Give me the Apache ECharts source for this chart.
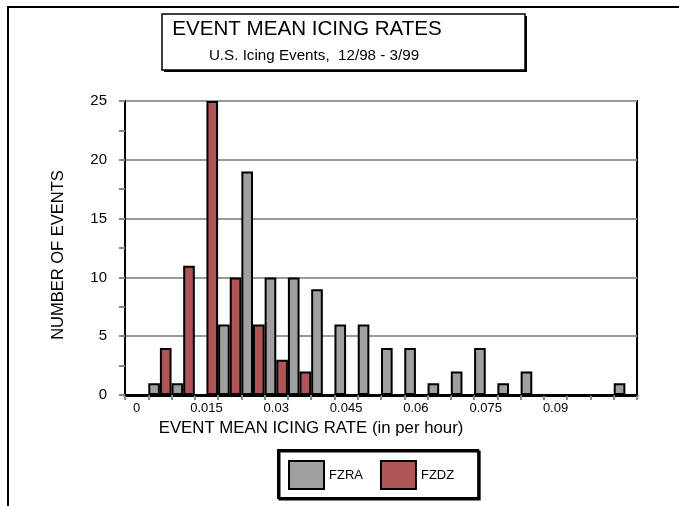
<!DOCTYPE html>
<html>
<head>
<meta charset="utf-8">
<script src="https://cdn.jsdelivr.net/npm/echarts@6/dist/echarts.min.js"></script>
<style>html,body{margin:0;padding:0;background:#fff}#c{width:679px;height:506px}</style>
</head>
<body>
<div id="c"></div>
<script>
const categories = ['0','0.005','0.01','0.015','0.02','0.025','0.03','0.035','0.04','0.045','0.05','0.055','0.06','0.065','0.07','0.075','0.08','0.085','0.09','0.095','0.1','0.105'];
const tickLabels = ['0','','','0.015','','','0.03','','','0.045','','','0.06','','','0.075','','','0.09','','',''];
const fzra = [0,1,1,0,6,19,10,10,9,6,6,4,4,1,2,4,1,2,0,0,0,1];
const fzdz = [0,4,11,25,10,6,3,2,0,0,0,0,0,0,0,0,0,0,0,0,0,0];

const FONT = "'Liberation Sans', Arial, sans-serif";
const chart = echarts.init(document.getElementById('c'), null, {renderer: 'canvas'});
chart.setOption({
  animation: false,
  backgroundColor: '#fff',
  textStyle: {fontFamily: FONT, color: '#000'},
  title: [
    {
      text: 'EVENT MEAN ICING RATES',
      left: 307, top: 19, textAlign: 'center', padding: 0,
      textStyle: {fontFamily: FONT, fontSize: 20.6, fontWeight: 'normal', color: '#000'}
    },
    {
      text: 'U.S. Icing Events,  12/98 - 3/99',
      left: 314, top: 48, textAlign: 'center', padding: 0,
      textStyle: {fontFamily: FONT, fontSize: 15.2, fontWeight: 'normal', color: '#000'}
    }
  ],
  graphic: [
    {type: 'rect', z: 0, shape: {x: 8, y: 7, width: 700, height: 600}, style: {fill: 'none', stroke: '#000', lineWidth: 2}},
    {type: 'rect', z: 0, shape: {x: 164, y: 16, width: 363, height: 56}, style: {fill: '#000'}},
    {type: 'rect', z: 1, shape: {x: 162, y: 14, width: 363, height: 56}, style: {fill: '#fff', stroke: '#000', lineWidth: 1.5}}
  ],
  legend: {
    data: ['FZRA', 'FZDZ'],
    left: 278, top: 450,
    orient: 'horizontal',
    itemWidth: 35, itemHeight: 28, itemGap: 17,
    padding: [10, 24, 8, 10],
    borderColor: '#000', borderWidth: 2,
    backgroundColor: '#fff',
    shadowColor: '#000', shadowBlur: 0, shadowOffsetX: 1.5, shadowOffsetY: 1.5,
    icon: 'rect',
    textStyle: {fontFamily: FONT, fontSize: 13, color: '#000', padding: [0, 0, 0, 0]}
  },
  grid: {left: 125, right: 42, top: 101, bottom: 111, show: true, borderColor: '#000', borderWidth: 2, containLabel: false},
  xAxis: {
    type: 'category',
    data: categories,
    boundaryGap: true,
    name: 'EVENT MEAN ICING RATE (in per hour)',
    nameLocation: 'middle',
    nameGap: 21,
    nameTextStyle: {fontFamily: FONT, fontSize: 16.8, color: '#000', padding: [0, 140, 0, 0]},
    axisLine: {show: true, lineStyle: {color: '#000', width: 3}},
    axisTick: {show: true, interval: 0, length: 5, lineStyle: {color: '#888', width: 2}},
    axisLabel: {interval: 0, margin: 7, fontFamily: FONT, fontSize: 13, color: '#000',
      formatter: (v, i) => tickLabels[i]},
    splitLine: {show: false}
  },
  yAxis: {
    type: 'value',
    min: 0, max: 25, interval: 5,
    name: 'NUMBER OF EVENTS',
    nameLocation: 'middle',
    nameGap: 58,
    nameTextStyle: {fontFamily: FONT, fontSize: 16.5, color: '#000', padding: [0, 14, 0, 0]},
    axisLine: {show: true, lineStyle: {color: '#000', width: 2}},
    axisTick: {show: true, length: 6, lineStyle: {color: '#888', width: 2}},
    minorTick: {show: true, splitNumber: 2, length: 6, lineStyle: {color: '#888', width: 2}},
    axisLabel: {margin: 18, fontFamily: FONT, fontSize: 15, color: '#000'},
    splitLine: {show: true, lineStyle: {color: '#999', width: 2}}
  },
  series: [
    {name: 'FZRA', type: 'bar', data: fzra, barGap: '0%', barCategoryGap: '0%',
     itemStyle: {color: '#a0a0a0', borderColor: '#000', borderWidth: 2}},
    {name: 'FZDZ', type: 'bar', data: fzdz, barGap: '0%', barCategoryGap: '0%',
     itemStyle: {color: '#b05555', borderColor: '#000', borderWidth: 2}}
  ]
});
</script>
</body>
</html>
